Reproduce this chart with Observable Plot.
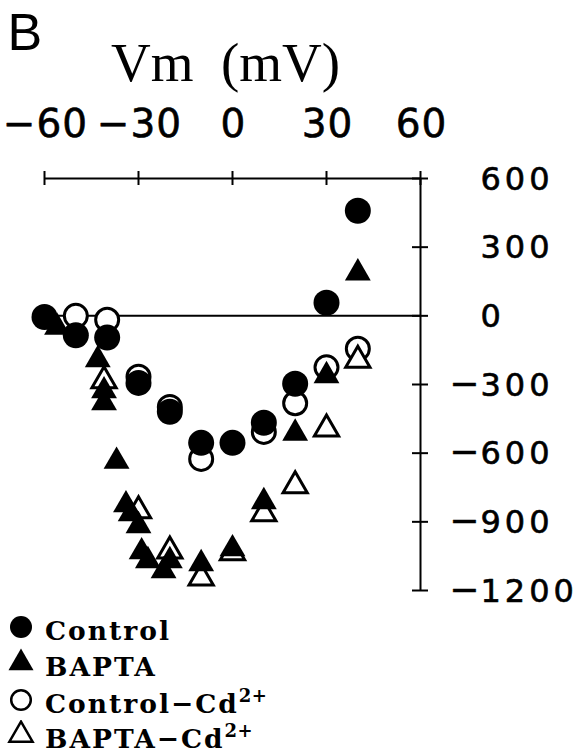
<!DOCTYPE html>
<html>
<head>
<meta charset="utf-8">
<script src="https://cdn.jsdelivr.net/npm/d3@7"></script>
<script src="https://cdn.jsdelivr.net/npm/@observablehq/plot@0.6"></script>
<style>
  body { margin: 0; background: #fff; }
  #wrap { position: relative; width: 584px; height: 756px; background: #fff; overflow: hidden; }
  #wrap > svg.plot { position: absolute; left: 0; top: 0; }
  .lg-mark { position: absolute; }
  .lg-text { position: absolute; left: 45px; font-family: "DejaVu Serif", serif; font-weight: bold;
             font-size: 26.5px; line-height: 20px; letter-spacing: 2px; white-space: nowrap; color: #000; }
  .lg-text .sup { font-size: 18px; line-height: 10px; position: relative; top: -11px; letter-spacing: 0.5px; }
</style>
</head>
<body>
<div id="wrap"></div>
<script>
// ---- data ----
const voltage     = [-60, -50, -40, -30, -20, -10, 0, 10, 20, 30, 40];
const controlI    = [-5, -85, -95, -293, -419, -555, -555, -467, -297, 57, 459];

const controlCdV  = [-50, -40, -30, -20, -10, 10, 20, 30, 40];
const controlCdI  = [0, -17, -266, -398, -625, -507, -382, -225, -144];

const baptaV      = [-56, -43, -41, -41, -37, -34, -32.5, -30, -29, -27, -22, -20, -10, 0, 10, 20, 30, 40];
const baptaI      = [-50, -192, -328, -380, -636, -826, -865, -917, -1031, -1070, -1114, -1070, -1083, -1018, -812, -513, -262, 187];

const baptaCdV    = [-41, -30, -20, -10, 0, 10, 20, 30, 40];
const baptaCdI    = [-284, -852, -1027, -1145, -1035, -865, -742, -494, -194];

const xTicks = [-60, -30, 0, 30, 60];
const yTicks = [600, 300, 0, -300, -600, -900, -1200];

const seriesNames = ["Control", "BAPTA", "Control\u2212Cd", "BAPTA\u2212Cd"];

// ---- tables ----
const ctrl    = voltage.map((v, i) => ({v, i: controlI[i]}));
const ctrlCd  = controlCdV.map((v, i) => ({v, i: controlCdI[i]}));
const bapta   = baptaV.map((v, i) => ({v, i: baptaI[i]}));
const baptaCd = baptaCdV.map((v, i) => ({v, i: baptaCdI[i]}));

const fmtSigned = d => d < 0 ? "\u2212" + (-d) : String(d);

const plot = Plot.plot({
  width: 584,
  height: 605,
  marginLeft: 44,
  marginRight: 164,
  marginTop: 178,
  marginBottom: 15,
  x: {domain: [-60, 60], axis: null},
  y: {domain: [-1200, 600], axis: null},
  style: {background: "white", overflow: "visible"},
  marks: [
    // axes
    Plot.ruleY([0], {x1: -60, x2: 60, stroke: "black", strokeWidth: 2}),
    Plot.ruleY([600], {x1: -60, x2: 60, stroke: "black", strokeWidth: 2}),
    Plot.ruleX([60], {y1: -1200, y2: 600, stroke: "black", strokeWidth: 2}),
    Plot.ruleX(xTicks, {x: d => d, y1: 600, y2: 600, insetTop: -7, insetBottom: -7, stroke: "black", strokeWidth: 2}),
    Plot.ruleY(yTicks, {y: d => d, x1: 60, x2: 60, insetLeft: -8, insetRight: -8, stroke: "black", strokeWidth: 2}),

    // data: hollow first, filled on top
    Plot.dot(ctrlCd, {x: "v", y: "i", r: 11.5, fill: "white", stroke: "black", strokeWidth: 3}),
    Plot.dot(baptaCd, {x: "v", y: "i", symbol: "triangle", r: 9, fill: "white", stroke: "black", strokeWidth: 3}),
    Plot.dot(ctrl, {x: "v", y: "i", r: 13, fill: "black"}),
    Plot.dot(bapta, {x: "v", y: "i", symbol: "triangle", r: 9.6, fill: "black"}),

    // texts
    Plot.text(["B"], {text: d => d, frameAnchor: "top-left", dx: -37, dy: -129, lineAnchor: "bottom",
      textAnchor: "start", fontSize: 52, fontFamily: "Liberation Sans", fill: "black"}),
    Plot.text(["Vm\u00a0\u00a0(mV)"], {text: d => d, x: 0, y: 600, dx: -7, dy: -98, lineAnchor: "bottom",
      fontSize: 55, fontFamily: "Liberation Serif", fill: "black"}),
    Plot.text(xTicks, {x: d => d, y: 600, text: fmtSigned, dx: 1, dy: -42, lineAnchor: "bottom",
      fontSize: 39, fontFamily: "DejaVu Sans", fill: "black", stroke: "black", strokeWidth: 0.6}),
    Plot.text(yTicks, {x: 60, y: d => d, text: d => String(Math.abs(d)), dx: 60, dy: 11, lineAnchor: "bottom",
      textAnchor: "start", fontSize: 32, fontFamily: "DejaVu Sans", fill: "black", stroke: "black", strokeWidth: 0.6}),
    Plot.text(yTicks.filter(d => d < 0), {x: 60, y: d => d, text: () => "\u2212", dx: 59, dy: 11, lineAnchor: "bottom",
      textAnchor: "end", fontSize: 36, fontFamily: "DejaVu Sans", fill: "black", stroke: "black", strokeWidth: 0.4})
  ]
});
plot.classList.add("plot");

const textGroups = plot.querySelectorAll('g[aria-label="text"]');
if (textGroups[2]) textGroups[2].style.letterSpacing = "1px";
if (textGroups[3]) textGroups[3].style.letterSpacing = "4px";

const wrap = document.getElementById("wrap");
wrap.appendChild(plot);

// ---- legend (below the SVG) ----
const legendRows = [
  {name: seriesNames[0], sup: "", kind: "circle", filled: true, cy: 627},
  {name: seriesNames[1], sup: "", kind: "triangle", filled: true, cy: 663},
  {name: seriesNames[2], sup: "2+", kind: "circle", filled: false, cy: 700},
  {name: seriesNames[3], sup: "2+", kind: "triangle", filled: false, cy: 735}
];
const triPath = d3.symbol(d3.symbolTriangle, Math.PI * 9.3 * 9.3)();
const triPathOpen = d3.symbol(d3.symbolTriangle, Math.PI * 8.6 * 8.6)();
for (const row of legendRows) {
  const s = d3.create("svg").attr("class", "lg-mark").attr("width", 30).attr("height", 30)
    .style("left", (21 - 15) + "px").style("top", (row.cy - 15) + "px");
  const g = s.append("g").attr("transform", "translate(15,15)");
  if (row.kind === "circle") {
    if (row.filled) g.append("circle").attr("r", 11).attr("fill", "black");
    else g.append("circle").attr("r", 9.8).attr("fill", "white").attr("stroke", "black").attr("stroke-width", 2.5);
  } else {
    if (row.filled) g.append("path").attr("d", triPath).attr("fill", "black");
    else g.append("path").attr("d", triPathOpen).attr("fill", "white").attr("stroke", "black").attr("stroke-width", 2.5);
  }
  wrap.appendChild(s.node());
  const t = document.createElement("div");
  t.className = "lg-text";
  t.style.top = (row.cy - 6.5) + "px";
  t.textContent = row.name;
  if (row.sup) {
    const sp = document.createElement("span");
    sp.className = "sup";
    sp.textContent = row.sup;
    t.appendChild(sp);
  }
  wrap.appendChild(t);
}
</script>
</body>
</html>
